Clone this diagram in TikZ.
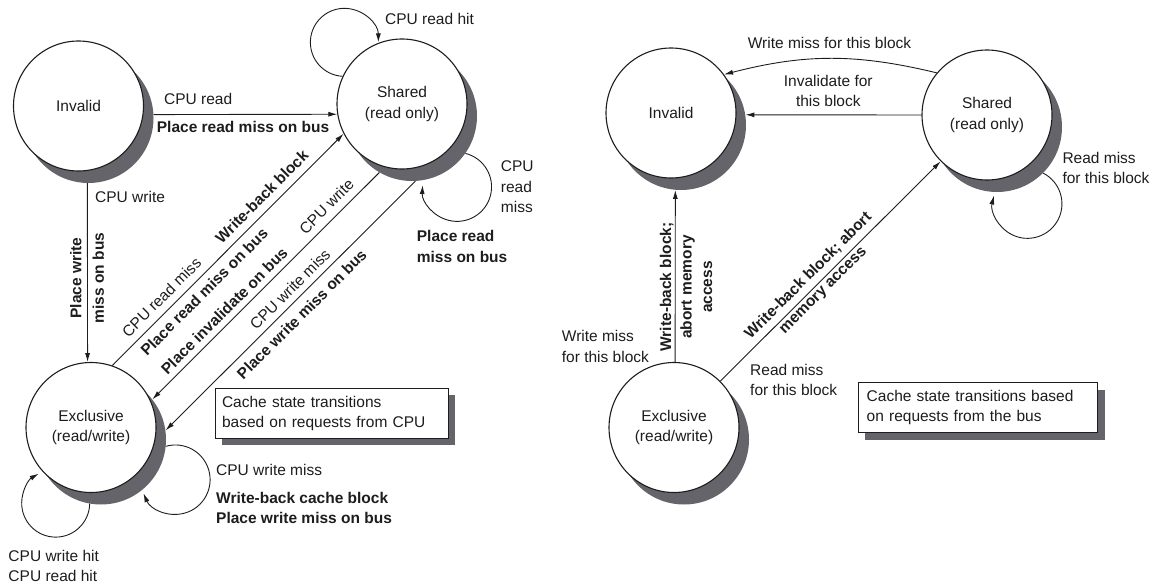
\documentclass[tikz,border=0pt]{standalone}
\usepackage{fontspec}
\setmainfont{Liberation Sans}
\usetikzlibrary{arrows.meta,shadows}
\definecolor{shadowgray}{RGB}{100,100,106}
\definecolor{ink}{RGB}{30,28,29}
\begin{document}
\begin{tikzpicture}[x=1pt,y=1pt,
  every node/.style={font=\fontsize{15.5}{20.5}\selectfont, text=ink},
  statecirc/.style={circle, draw=ink, line width=1.1pt, fill=white, minimum size=130pt, inner sep=0pt, align=center},
  shadowdisk/.style={circle, fill=shadowgray, minimum size=130pt, inner sep=0pt},
  arr/.style={-{Latex[length=9pt,width=5pt]}, line width=0.9pt, draw=ink},
  lbl/.style={inner sep=0pt, align=left},
  bold/.style={font=\fontsize{15.5}{20.5}\selectfont\bfseries},
  infobox/.style={draw=ink, line width=0.9pt, fill=white, align=left, inner xsep=7pt, minimum height=50pt,
    drop shadow={shadow xshift=7pt, shadow yshift=-7pt, fill=shadowgray, opacity=1}}
]
\useasboundingbox (0,0) rectangle (1162,-586);

% ---------------- left diagram ----------------
\node[shadowdisk] (Ish) at (88.5,-118) {};
\node[shadowdisk] (Ssh) at (412,-116) {};
\node[shadowdisk] (Esh) at (101,-439.5) {};
\node[statecirc] (I) at (78.5,-106) {Invalid};
\node[statecirc] (S) at (402,-104) {Shared\\(read only)};
\node[statecirc] (E) at (91,-427.5) {Exclusive\\(read/write)};

\draw[arr] (Ish.3) -- (S.189);
\draw[arr] (Ish.269) -- (E.93);
\draw[arr] (E.71) -- (S.207);
\draw[arr] (Ssh.240) -- (Esh.38);
\draw[arr] (Ssh.273) -- (Esh.8);
\draw[arr] (S.155) arc[start angle=267, end angle=0, radius=34];
\draw[arr] (Ssh.325) arc[start angle=76, end angle=-183, radius=34.5];
\draw[arr] (Esh.260) arc[start angle=-1, end angle=-240, radius=34];
\draw[arr] (Esh.354) arc[start angle=106, end angle=-157, radius=34.7];

\node[lbl, anchor=west] (l1) at (385,-19) {CPU read hit};
\node[lbl, anchor=west] (l2) at (164,-99) {CPU read};
\node[lbl, bold, anchor=west] (l3) at (156.7,-126.7) {Place read miss on bus};
\node[lbl, anchor=west] (l4) at (95,-196.7) {CPU write};
\node[lbl, rotate=90, align=center, font=\fontsize{15.5}{22.5}\selectfont\bfseries] (l5) at (87,-278) {Place write\\miss on bus};
\node[lbl, anchor=west] (l6) at (500.7,-187) {CPU\\read\\miss};
\node[lbl, bold, anchor=west] (l7) at (416.7,-246.7) {Place read\\miss on bus};

\node[lbl, rotate=45] (d1) at (161.5,-297.3) {CPU read miss};
\node[lbl, bold, rotate=45] (d2) at (261.7,-196.7) {Write-back block};
\node[lbl, bold, rotate=45] (d3) at (204.2,-291.7) {Place read miss on bus};
\node[lbl, bold, rotate=45] (d4) at (224.2,-310.8) {Place invalidate on bus};
\node[lbl, rotate=45] (d5) at (326.5,-206.5) {CPU write};
\node[lbl, rotate=45] (d6) at (289.9,-289.1) {CPU write miss};
\node[lbl, bold, rotate=45] (d7) at (301.7,-314.2) {Place write miss on bus};

\node[lbl, anchor=west] (l15) at (216,-470) {CPU write miss};
\node[lbl, bold, anchor=west] (l16) at (216,-507.8) {Write-back cache block\\Place write miss on bus};
\node[lbl, anchor=west] (l17) at (8.3,-566) {CPU write hit\\CPU read hit};
\node[infobox, text width=219.3pt] (b1) at (331.7,-413.3) {Cache state transitions\\based on requests from CPU};

% ---------------- right diagram ----------------
\node[shadowdisk] (Irsh) at (681,-125) {};
\node[shadowdisk] (Srsh) at (997,-127) {};
\node[shadowdisk] (Ersh) at (684,-439.5) {};
\node[statecirc] (Ir) at (671,-113) {Invalid};
\node[statecirc] (Sr) at (987,-115) {Shared\\(read only)};
\node[statecirc] (Er) at (674,-427.5) {Exclusive\\(read/write)};

\draw[arr] (Sr.140) to[bend right=14] (Ir.36);
\draw[arr] (Sr.180) -- (Irsh.9);
\draw[arr] (Er.89) -- (Irsh.265);
\draw[arr] (Er.45) -- (Sr.225);
\draw[arr] (Srsh.315) arc[start angle=63, end angle=-194, radius=34.5];

\node[lbl] (r1) at (829.5,-43.3) {Write miss for this block};
\node[lbl, align=center] (r2) at (828.3,-91.2) {Invalidate for\\this block};
\node[lbl, anchor=west] (r3) at (1062.3,-167.8) {Read miss\\for this block};
\node[lbl, bold, rotate=90, align=center] (r4) at (686,-287) {Write-back block;\\abort memory\\access};
\node[lbl, anchor=west] (r5) at (561.7,-346.3) {Write miss\\for this block};
\node[lbl, anchor=west] (r6) at (750,-380) {Read miss\\for this block};
\node[lbl, bold, rotate=45, align=center] (r7) at (815.9,-283.3) {Write-back block; abort\\memory access};
\node[infobox, text width=222.6pt, inner xsep=8.4pt] (b2) at (978,-407.7) {Cache state transitions based\\on requests from the bus};
\end{tikzpicture}
\end{document}
